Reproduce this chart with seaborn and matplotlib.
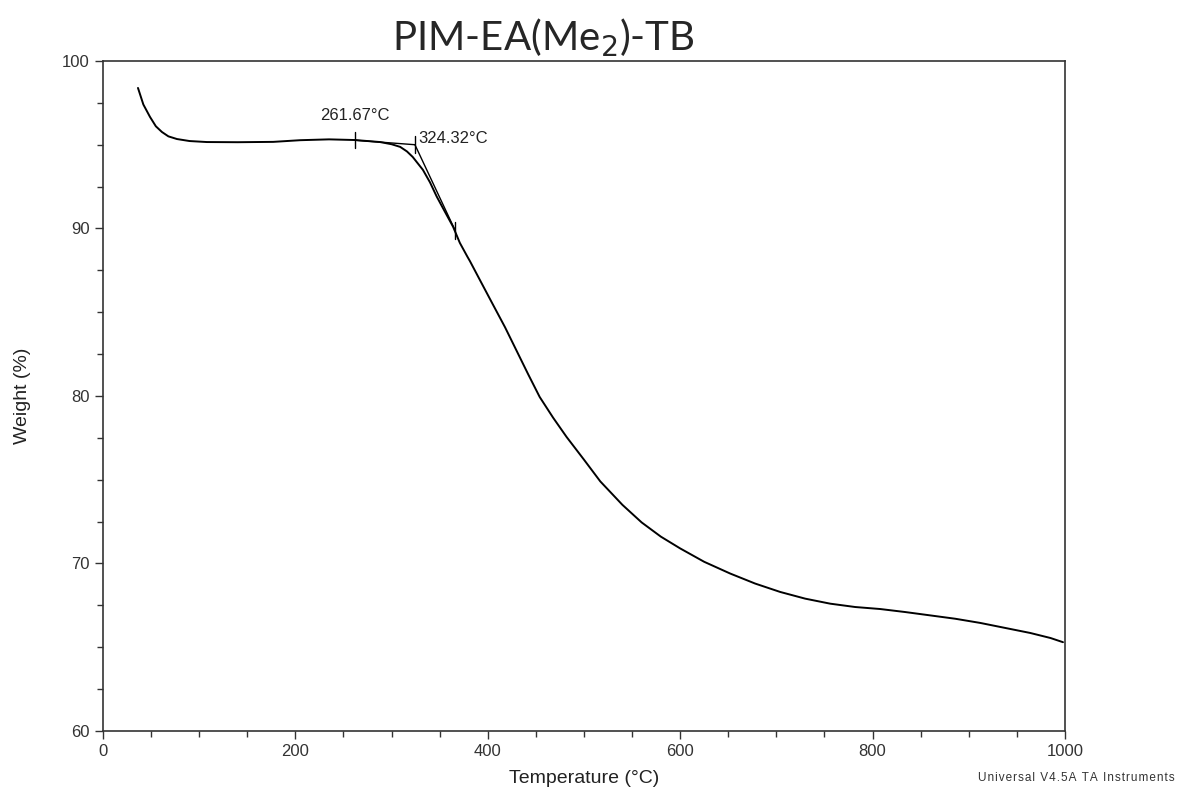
import numpy as np
import pandas as pd
import matplotlib.pyplot as plt
import seaborn as sns
from matplotlib.ticker import MultipleLocator

# TGA curve
temperature = [36.4, 42, 48.9, 55, 61.3, 68, 76.9, 90, 108, 140, 177, 205, 235, 262,
               288, 300, 309, 316, 322, 332.6, 340, 347, 355, 364, 371, 379, 381.5,
               393, 405, 418, 430, 442, 454, 468, 482, 500, 517, 540, 560, 580, 600,
               625, 652, 678, 704, 730, 756, 782, 808, 834, 860, 886, 912, 938, 964, 985, 998]
weight = [98.39, 97.4, 96.66, 96.1, 95.76, 95.5, 95.34, 95.22, 95.16, 95.15, 95.17, 95.27, 95.32, 95.28,
          95.16, 95.03, 94.87, 94.6, 94.27, 93.5, 92.75, 91.9, 91.05, 90.1, 89.14, 88.3, 88.05,
          86.8, 85.5, 84.1, 82.7, 81.3, 79.94, 78.7, 77.55, 76.2, 74.9, 73.5, 72.45, 71.6, 70.9,
          70.1, 69.4, 68.8, 68.3, 67.9, 67.6, 67.4, 67.28, 67.1, 66.9, 66.7, 66.45, 66.15, 65.85, 65.55, 65.3]

# onset construction
onset_labels = ["261.67°C", "324.32°C"]
onset_temps = [261.67, 324.32]
baseline_t = [261.67, 324.32]
baseline_w = [95.27, 95.0]
tangent_t = [324.32, 366.0]
tangent_w = [95.0, 89.9]
tick_t = [261.67, 324.32, 366.0]
tick_w = [95.28, 95.0, 89.9]

df = pd.DataFrame({"Temperature (°C)": temperature, "Weight (%)": weight})

sns.set_style("ticks")
plt.rcParams["font.family"] = ["Liberation Sans", "DejaVu Sans"]

fig = plt.figure(figsize=(11.78, 7.96), dpi=100)
ax = fig.add_axes([0.0874, 0.0817, 0.8166, 0.8417])

sns.lineplot(data=df, x="Temperature (°C)", y="Weight (%)", color="black",
             linewidth=1.4, ax=ax, sort=False)
ax.plot(baseline_t, baseline_w, color="black", linewidth=1.0)
ax.plot(tangent_t, tangent_w, color="black", linewidth=1.0)
for t, w in zip(tick_t, tick_w):
    ax.plot([t, t], [w - 0.5, w + 0.5], color="black", linewidth=1.0)

ax.text(onset_temps[0], 96.3, onset_labels[0], ha="center", va="bottom", fontsize=12, color="#222222")
ax.text(onset_temps[1] + 3, 95.4, onset_labels[1], ha="left", va="center", fontsize=12, color="#222222")

ax.set_xlim(0, 1000)
ax.set_ylim(60, 100)
ax.xaxis.set_major_locator(MultipleLocator(200))
ax.xaxis.set_minor_locator(MultipleLocator(50))
ax.yaxis.set_major_locator(MultipleLocator(10))
ax.yaxis.set_minor_locator(MultipleLocator(2.5))
ax.tick_params(which="major", direction="out", length=6, width=1.0, labelsize=12, colors="#333333")
ax.tick_params(which="minor", direction="out", length=4, width=1.0, colors="#333333")
for s in ax.spines.values():
    s.set_color("#333333")
    s.set_linewidth(1.2)

ax.set_xlabel("Temperature (°C)", fontsize=14, color="#222222", labelpad=8)
ax.set_ylabel("Weight (%)", fontsize=14, color="#222222", labelpad=22)

fig.text(0.461, 0.953, "PIM-EA(Me$_2$)-TB", ha="center", va="center", fontsize=29,
         family=["Lato", "DejaVu Sans"])
stamp = "Universal V4.5A TA Instruments"
fig.text(0.997, 0.022, "\u200a".join(stamp), ha="right", va="center", fontsize=8.5,
         color="#333333", family=["Liberation Sans", "DejaVu Sans"])

fig.savefig("out.png", dpi=100)
